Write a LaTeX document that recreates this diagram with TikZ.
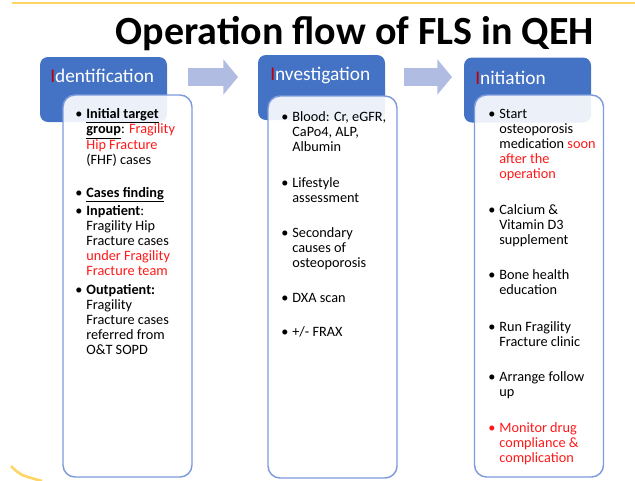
\documentclass[tikz,border=0pt]{standalone}
\usepackage{fontspec}
\setmainfont{Carlito}
\usepackage{xcolor}
\usetikzlibrary{arrows.meta}
\definecolor{hdrblue}{RGB}{68,114,196}
\definecolor{edgeblue}{RGB}{125,155,220}
\definecolor{arrowblue}{RGB}{176,188,226}
\definecolor{hotred}{RGB}{255,25,25}
\definecolor{darkred}{RGB}{192,0,0}
\definecolor{goldline}{RGB}{255,214,102}
% one bullet with its lines
\newcommand{\bitem}[2][black]{{\color{#1}\textbullet}\hspace{3pt}\begin{tabular}[t]{@{}l@{}}#2\end{tabular}}
\newcommand{\hot}[1]{\textcolor{hotred}{#1}}

\begin{document}
\begin{tikzpicture}[x=0.75pt, y=-0.75pt,
    hdr/.style={fill=hdrblue, rounded corners=6pt, inner sep=0pt, minimum width=95.25pt, minimum height=48.75pt},
    hdrtxt/.style={text=white, font=\fontsize{14.5}{17}\selectfont, inner sep=0pt, anchor=west},
    card/.style={draw=edgeblue, line width=1.1pt, fill=white, fill opacity=0.9, rounded corners=9pt, inner sep=0pt, minimum width=96.75pt, minimum height=286.5pt},
    itemtxt/.style={font=\fontsize{10.7}{11.4}\selectfont, inner sep=0pt, anchor=base west, align=left},
    blockarrow/.style={arrowblue, line width=14pt, -{Triangle[length=11pt, width=26pt]}}]
  \useasboundingbox (0,0) rectangle (635,480);
  % gold rules
  \draw[goldline, line width=2.2pt] (12,3) -- (635,3);
  \draw[goldline, line width=2pt] (11,466) .. controls (20,475) .. (42,481);
  % title
  \node[font=\bfseries\fontsize{30}{36}\selectfont, inner sep=0pt, anchor=base] (title) at (355,44) {Operation flow of FLS in QEH};

  % headers
  \node[hdr] (hd1) at (103.5,89.5) {};
  \node[hdr] (hd2) at (321.5,87.5) {};
  \node[hdr] (hd3) at (527.5,90) {};
  \node[hdrtxt] (ht1) at (50,76) {{\color{darkred}I}dentification};
  \node[hdrtxt] (ht2) at (270,75) {{\color{darkred}I}nvestigation};
  \node[hdrtxt] (ht3) at (475,78) {{\color{darkred}I}nitiation};

  % cards
  \node[card] (cd1) at (127.5,286) {};
  \node[card] (cd2) at (332.5,287) {};
  \node[card] (cd3) at (539,286) {};

  % arrows between steps
  \coordinate (a1) at (188,77);
  \coordinate (b1) at (238,77);
  \coordinate (a2) at (404,77);
  \coordinate (b2) at (452,77);
  \draw[blockarrow] (a1) -- (b1);
  \draw[blockarrow] (a2) -- (b2);

  % identification
  \node[itemtxt] (i1) at (75,118) {\bitem{\textbf{\underline{Initial target}}\\\textbf{\underline{group}}: \hot{Fragility}\\\hot{Hip Fracture}\\(FHF) cases}};
  \node[itemtxt] (i2) at (75,197) {\bitem{\textbf{\underline{Cases finding}}}};
  \node[itemtxt] (i3) at (75,215) {\bitem{\textbf{Inpatient}:\\Fragility Hip\\Fracture cases\\\hot{under Fragility}\\\hot{Fracture team}}};
  \node[itemtxt] (i4) at (75,294) {\bitem{\textbf{Outpatient:}\\Fragility\\Fracture cases\\referred from\\O\&T SOPD}};

  % investigation
  \node[itemtxt] (v1) at (281,121) {\bitem{Blood: Cr, eGFR,\\CaPo4, ALP,\\Albumin}};
  \node[itemtxt] (v2) at (281,187) {\bitem{Lifestyle\\assessment}};
  \node[itemtxt] (v3) at (281,237) {\bitem{Secondary\\causes of\\osteoporosis}};
  \node[itemtxt] (v4) at (281,302) {\bitem{DXA scan}};
  \node[itemtxt] (v5) at (281,336) {\bitem{+/- FRAX}};

  % initiation
  \node[itemtxt] (n1) at (488,118) {\bitem{Start\\osteoporosis\\medication \hot{soon}\\\hot{after the}\\\hot{operation}}};
  \node[itemtxt] (n2) at (488,214) {\bitem{Calcium \&\\Vitamin D3\\supplement}};
  \node[itemtxt] (n3) at (488,279) {\bitem{Bone health\\education}};
  \node[itemtxt] (n4) at (488,331) {\bitem{Run Fragility\\Fracture clinic}};
  \node[itemtxt] (n5) at (488,381) {\bitem{Arrange follow\\up}};
  \node[itemtxt, text=hotred] (n6) at (488,432) {\bitem[hotred]{Monitor drug\\compliance \&\\complication}};
\end{tikzpicture}
\end{document}
